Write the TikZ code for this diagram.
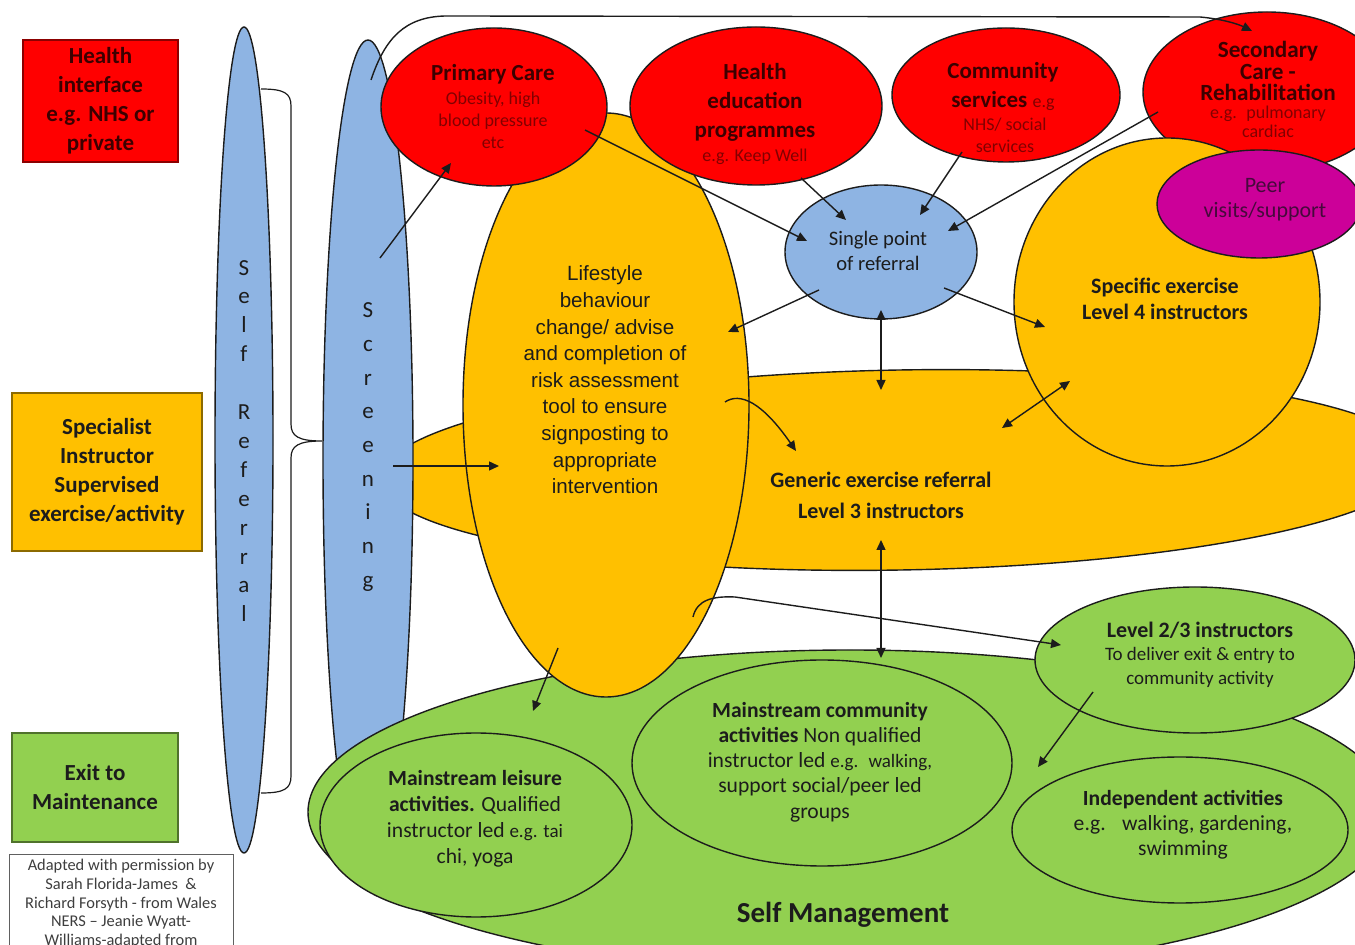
\documentclass[tikz,border=0pt]{standalone}
\usepackage{fontspec}
\setmainfont{Carlito}
\newfontfamily\arialfont{Liberation Sans}
\usetikzlibrary{shapes.geometric,arrows.meta,positioning}

\definecolor{nhsred}{RGB}{255,0,0}
\definecolor{amber}{RGB}{255,192,0}
\definecolor{leaf}{RGB}{146,208,80}
\definecolor{sky}{RGB}{142,180,227}
\definecolor{plum}{RGB}{204,0,153}
\definecolor{ink}{RGB}{28,28,28}
\definecolor{inkred}{RGB}{60,0,0}
\definecolor{softred}{RGB}{130,0,0}
\definecolor{inkplum}{RGB}{70,10,60}

\tikzset{
  blob/.style={ellipse, draw=ink, line width=0.7pt, inner sep=0pt},
  tagbox/.style={draw, line width=0.6pt, inner sep=0pt, align=center,
    font=\bfseries\fontsize{11.5}{14.5}\selectfont, text=inkred},
  hd/.style={align=center, inner sep=0pt, text=inkred,
    font=\bfseries\fontsize{11.5}{14.5}\selectfont},
  sm/.style={align=center, inner sep=0pt, text=softred,
    font=\fontsize{9}{11}\selectfont},
  body/.style={align=center, inner sep=0pt, text=ink,
    font=\fontsize{10.8}{12.6}\selectfont},
  ptr/.style={-{Triangle[length=5pt,width=4.5pt]}, line width=0.7pt, ink},
  dptr/.style={{Triangle[length=5pt,width=4.5pt]}-{Triangle[length=5pt,width=4.5pt]}, line width=0.7pt, ink}
}

\begin{document}
\begin{tikzpicture}[x=0.5pt, y=-0.5pt]
  % Page frame
  \useasboundingbox (0,0) rectangle (1355,945);

  % Generic exercise referral band
  \node[blob, fill=amber, minimum width=520pt, minimum height=100pt, rotate=1] (generic) at (900,470) {};

  % Self referral column and brace
  \node[blob, fill=sky, minimum width=29pt, minimum height=413pt] (selfref) at (244,440) {};
  \draw[ink, line width=0.6pt] (261,89) .. controls (284,89) and (291,93) .. (291,106)
    -- (291,424) .. controls (291,436) and (298,441) .. (322,441)
    .. controls (298,441) and (291,446) .. (291,458)
    -- (291,776) .. controls (291,789) and (284,793) .. (261,793);

  % Screening column
  \node[blob, fill=sky, minimum width=45pt, minimum height=420pt] (screening) at (368,460) {};

  % Self management
  \node[blob, fill=leaf, minimum width=542pt, minimum height=162pt] (selfmgmt) at (850,812) {};

  % Lifestyle
  \node[blob, fill=amber, minimum width=143pt, minimum height=292pt] (lifestyle) at (606,405) {};

  % Health interface circles
  \node[blob, fill=nhsred, minimum width=113pt, minimum height=79pt] (primary) at (494,107) {};
  \node[blob, fill=nhsred, minimum width=126pt, minimum height=79pt] (healthed) at (756,106) {};
  \node[blob, fill=nhsred, minimum width=114pt, minimum height=67pt] (community) at (1006,95) {};
  \node[blob, fill=nhsred, minimum width=124pt, minimum height=80pt] (secondary) at (1267,92) {};

  % Specific exercise and peer support
  \node[blob, fill=amber, minimum width=153pt, minimum height=164pt] (specific) at (1167,302) {};
  \node[blob, fill=plum, minimum width=102pt, minimum height=54pt] (peer) at (1259,204) {};

  % Single point of referral
  \node[blob, fill=sky, minimum width=96pt, minimum height=67pt] (single) at (881,252) {};

  % Maintenance circles
  \node[blob, fill=leaf, minimum width=160pt, minimum height=73pt] (level) at (1195,660) {};
  \node[blob, fill=leaf, minimum width=190pt, minimum height=103pt] (mainstream) at (822,763) {};
  \node[blob, fill=leaf, minimum width=168pt, minimum height=73pt] (independent) at (1180,830) {};
  \node[blob, fill=leaf, minimum width=156pt, minimum height=92pt] (leisure) at (476,825) {};

  % Key boxes
  \node[tagbox, fill=nhsred, draw=red!55!black, minimum width=77.5pt, minimum height=61pt] (keyhealth) at (100.5,101) {Health\\interface\\e.g. NHS or\\private};
  \node[tagbox, fill=amber, draw=amber!55!black, minimum width=95pt, minimum height=79pt, text=ink] (keyspec) at (107,472) {Specialist\\Instructor\\Supervised\\exercise/activity};
  \node[tagbox, fill=leaf, draw=leaf!55!black, minimum width=83pt, minimum height=54.5pt, text=ink] (keyexit) at (95,787.5) {Exit to\\Maintenance};
  \node[draw=ink!70, line width=0.5pt, anchor=north, minimum width=112pt, inner sep=2.5pt, align=center, text=ink!85, font=\fontsize{8.2}{9.35}\selectfont] (credit) at (121,854) {Adapted with permission by\\Sarah Florida-James~ \&\\Richard Forsyth - from Wales\\NERS -- Jeanie Wyatt-\\Williams-adapted from\\ };

  % Column letters
  \node[align=center, inner sep=0pt, text=ink, font=\fontsize{11.5}{14.45}\selectfont] (selfreftxt) at (244,441) {S\\e\\l\\f\\~\\R\\e\\f\\e\\r\\r\\a\\l};
  \node[align=center, inner sep=0pt, text=ink, font=\fontsize{11.5}{16.85}\selectfont] (screentxt) at (368,447) {S\\c\\r\\e\\e\\n\\i\\n\\g};

  % Circle labels
  \node[hd] (primaryhd) at (493,74) {Primary Care};
  \node[sm] (primarysm) at (493,120) {Obesity, high\\blood pressure\\etc};
  \node[hd] (healthedhd) at (755,102) {Health\\education\\programmes};
  \node[sm] (healthedsm) at (755,157) {e.g. Keep Well};
  \node[hd] (communityhd) at (1003,86) {Community\\services {\mdseries\color{softred}\fontsize{9}{11}\selectfont e.g}};
  \node[sm] (communitysm) at (1005,135) {NHS/ social\\services};
  \node[hd, font=\bfseries\fontsize{11.6}{10.7}\selectfont] (secondaryhd) at (1268,71) {Secondary\\Care -\\Rehabilitation};
  \node[sm, font=\fontsize{9}{9.4}\selectfont] (secondarysm) at (1268,122) {e.g.~ pulmonary\\cardiac};
  \node[body, text=inkplum, font=\fontsize{11}{12.5}\selectfont] (peertxt) at (1265,200) {Peer\\visits/support};
  \node[body, font=\fontsize{10.3}{12.5}\selectfont] (singletxt) at (878,251) {Single point\\of referral};
  \node[body, font=\bfseries\fontsize{11}{13}\selectfont] (specifictxt) at (1165,299) {Specific exercise\\Level 4 instructors};
  \node[body, font=\arialfont\fontsize{10.3}{13.3}\selectfont] (lifestyletxt) at (605,380) {Lifestyle\\behaviour\\change/ advise\\and completion of\\risk assessment\\tool to ensure\\signposting to\\appropriate\\intervention};
  \node[body, font=\bfseries\fontsize{11}{15.5}\selectfont] (generictxt) at (881,495) {Generic exercise referral\\Level 3 instructors};
  \node[body, font=\bfseries\fontsize{11}{13}\selectfont] (levelhd) at (1200,630) {Level 2/3 instructors};
  \node[body, font=\fontsize{9.5}{12}\selectfont] (levelsm) at (1200,667) {To deliver exit \& entry to\\community activity};
  \node[body] (mainstreamtxt) at (820,762) {\textbf{Mainstream community}\\\textbf{activities} Non qualified\\instructor led {\fontsize{9.5}{12.6}\selectfont e.g.~ walking,}\\support social/peer led\\groups};
  \node[body, font=\fontsize{10.8}{12.5}\selectfont] (independenttxt) at (1183,825) {\textbf{Independent activities}\\e.g.~~ walking, gardening,\\swimming};
  \node[body, font=\fontsize{10.8}{13}\selectfont] (leisuretxt) at (475,819) {\textbf{Mainstream leisure}\\\textbf{activities.} Qualified\\instructor led {\fontsize{9.5}{13}\selectfont e.g. tai}\\chi, yoga};
  \node[body, font=\bfseries\fontsize{14.5}{17}\selectfont] (selfmgmttxt) at (843,915) {Self Management};

  % Arrow ends
  \coordinate (scr-up) at (380,258);
  \coordinate (pc-in) at (451,163);
  \coordinate (scr-top) at (371,80);
  \coordinate (top-l) at (445,16);
  \coordinate (top-r) at (1200,17);
  \coordinate (sec-top) at (1252,31);
  \coordinate (pc-out) at (585,130);
  \coordinate (spr-nw) at (807,241);
  \coordinate (he-out) at (801,178);
  \coordinate (spr-n) at (846,220);
  \coordinate (cs-out) at (962,152);
  \coordinate (spr-ne) at (920,215);
  \coordinate (sc-out) at (1158,112);
  \coordinate (spr-e) at (948,231);
  \coordinate (spr-sw) at (819,290);
  \coordinate (ls-ne) at (728,332);
  \coordinate (spr-se) at (944,288);
  \coordinate (sp-w) at (1045,327);
  \coordinate (spr-s) at (881,310);
  \coordinate (gen-n) at (881,390);
  \coordinate (gen-ne) at (1002,428);
  \coordinate (sp-sw) at (1070,381);
  \coordinate (ls-e) at (725,402);
  \coordinate (gen-nw) at (796,451);
  \coordinate (scr-e) at (393,466);
  \coordinate (ls-w) at (499,466);
  \coordinate (gen-s) at (881,540);
  \coordinate (mc-n) at (881,658);
  \coordinate (ls-se) at (693,617);
  \coordinate (ls-hook) at (735,597);
  \coordinate (lv-w) at (1061,645);
  \coordinate (ls-s) at (558,648);
  \coordinate (sm-nw) at (533,711);
  \coordinate (lv-sw) at (1093,692);
  \coordinate (in-nw) at (1038,767);

  % Referral arrows
  \draw[ptr] (scr-up) -- (pc-in);
  \draw[ptr] (scr-top) .. controls (385,38) and (405,17) .. (top-l) -- (top-r)
    .. controls (1222,19) and (1238,24) .. (sec-top);
  \draw[ptr] (pc-out) -- (spr-nw);
  \draw[ptr] (he-out) -- (spr-n);
  \draw[ptr] (cs-out) -- (spr-ne);
  \draw[ptr] (sc-out) -- (spr-e);
  \draw[ptr] (spr-sw) -- (ls-ne);
  \draw[ptr] (spr-se) -- (sp-w);
  \draw[dptr] (spr-s) -- (gen-n);
  \draw[dptr] (gen-ne) -- (sp-sw);
  \draw[ptr] (ls-e) .. controls (740,392) and (762,402) .. (gen-nw);
  \draw[ptr] (scr-e) -- (ls-w);

  % Exit arrows
  \draw[dptr] (gen-s) -- (mc-n);
  \draw[ptr] (ls-se) .. controls (697,600) and (712,596) .. (ls-hook) -- (lv-w);
  \draw[ptr] (ls-s) -- (sm-nw);
  \draw[ptr] (lv-sw) -- (in-nw);
\end{tikzpicture}
\end{document}
